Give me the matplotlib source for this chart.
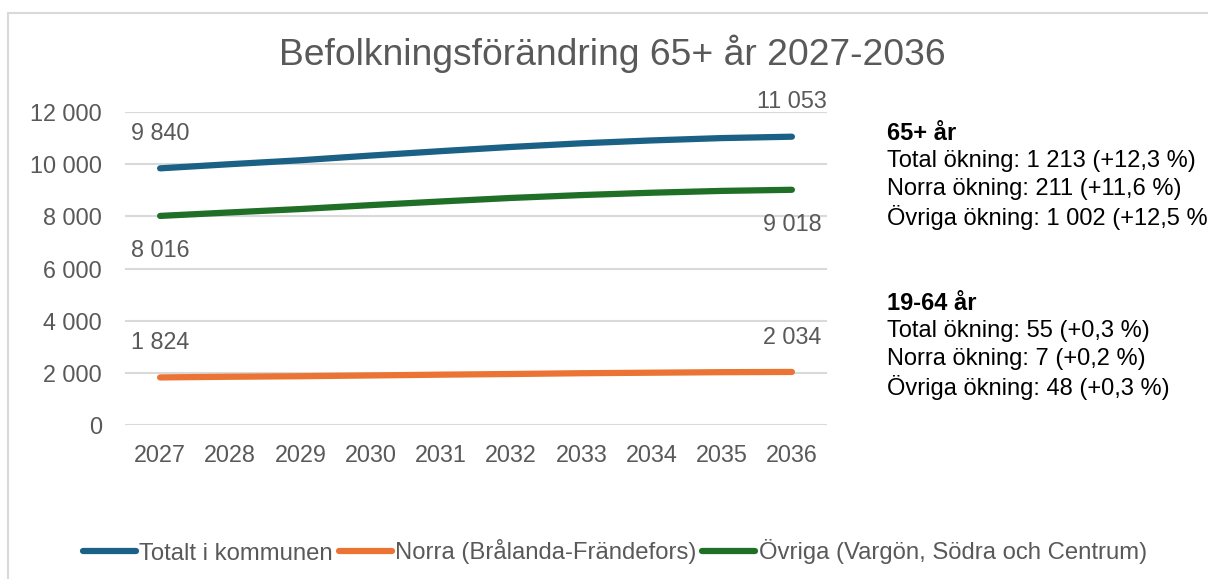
import matplotlib
matplotlib.use("Agg")
import matplotlib.pyplot as plt
from matplotlib.patches import Rectangle

plt.rcParams["font.family"] = ["Liberation Sans", "DejaVu Sans"]

# ── Data ──────────────────────────────────────────────────────────────────────
years = [2027, 2028, 2029, 2030, 2031, 2032, 2033, 2034, 2035, 2036]
totalt = [9840, 10000, 10150, 10330, 10500, 10660, 10800, 10910, 11000, 11053]
norra = [1824, 1850, 1870, 1900, 1930, 1955, 1985, 2005, 2025, 2034]
ovriga = [8016, 8150, 8280, 8430, 8570, 8705, 8815, 8905, 8975, 9018]

series_names = ["Totalt i kommunen", "Norra (Brålanda-Frändefors)",
                "Övriga (Vargön, Södra och Centrum)"]
yticks = [0, 2000, 4000, 6000, 8000, 10000, 12000]

info_65 = ["Total ökning: 1 213 (+12,3 %)",
           "Norra ökning: 211 (+11,6 %)",
           "Övriga ökning: 1 002 (+12,5 %)"]
info_1964 = ["Total ökning: 55 (+0,3 %)",
             "Norra ökning: 7 (+0,2 %)",
             "Övriga ökning: 48 (+0,3 %)"]

BLUE = "#1b6185"
ORANGE = "#eb7334"
GREEN = "#1f6f27"
GREY_TXT = "#595959"
GRID = "#d9d9d9"


def fmt(v):
    return f"{v:,}".replace(",", " ")


W, H = 1208, 579
fig = plt.figure(figsize=(W / 100, H / 100), dpi=100)
fig.patch.set_facecolor("white")

# light chart-area frame (runs past the right and bottom edges)
fig.patches.append(Rectangle((8 / W, -0.1), 1.2, 1.1 - 13 / H,
                             transform=fig.transFigure, fill=False,
                             edgecolor=GRID, linewidth=1.5))

ax = fig.add_axes([125 / W, 1 - 425 / H, 702 / W, 313 / H])
x = list(range(len(years)))

ax.plot(x, totalt, color=BLUE, lw=4.5, solid_capstyle="round", label=series_names[0], zorder=3)
ax.plot(x, norra, color=ORANGE, lw=4.5, solid_capstyle="round", label=series_names[1], zorder=3)
ax.plot(x, ovriga, color=GREEN, lw=4.5, solid_capstyle="round", label=series_names[2], zorder=3)

ax.set_xlim(-0.5, len(years) - 0.5)
ax.set_ylim(0, 12000)
ax.set_yticks(yticks)
ax.set_yticklabels([fmt(v) for v in yticks])
ax.set_xticks(x)
ax.set_xticklabels([str(y) for y in years])
ax.tick_params(axis="both", length=0, labelsize=16.8, colors=GREY_TXT)
ax.tick_params(axis="y", pad=16.5)
ax.tick_params(axis="x", pad=13.5)
ax.grid(axis="y", color=GRID, linewidth=1.5, zorder=0)
ax.set_axisbelow(True)
for spine in ax.spines.values():
    spine.set_visible(False)

# end-point data labels
for vals, side in [(totalt, 1), (norra, 1), (ovriga, -1)]:
    for i in (0, len(vals) - 1):
        ax.annotate(fmt(vals[i]), (x[i], vals[i]), xytext=(0, 25 * side),
                    textcoords="offset points", ha="center", va="center",
                    fontsize=16.8, color=GREY_TXT)

fig.text(612 / W, 1 - 54 / H, "Befolkningsförändring 65+ år 2027-2036",
         ha="center", va="center", fontsize=26.8, color=GREY_TXT)

# side notes
def note_block(y0, head, lines):
    fig.text(887 / W, 1 - y0 / H, head, ha="left", va="center",
             fontsize=17, fontweight="bold", color="black")
    for k, line in enumerate(lines):
        fig.text(887 / W, 1 - (y0 + 28 * (k + 1)) / H, line, ha="left",
                 va="center", fontsize=17, color="black")

note_block(133, "65+ år", info_65)
note_block(303, "19-64 år", info_1964)

leg = fig.legend(loc="center", bbox_to_anchor=(615 / W, 1 - 552 / H), ncol=3,
                 frameon=False, fontsize=17.2, handlelength=2.2,
                 handletextpad=0.15, columnspacing=0.25, borderpad=0)
for t in leg.get_texts():
    t.set_color(GREY_TXT)

fig.savefig("out.png", dpi=100, facecolor="white")
